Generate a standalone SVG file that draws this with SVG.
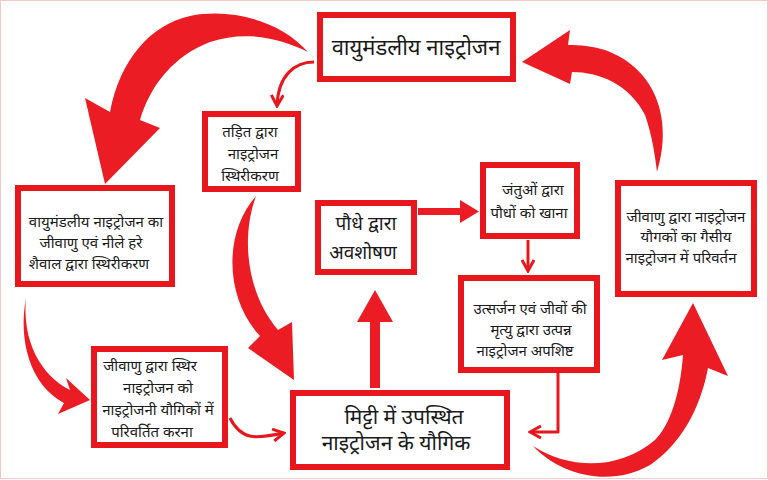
<svg xmlns="http://www.w3.org/2000/svg" width="768" height="480" viewBox="0 0 768 480">
<style>
.box{fill:#fff;stroke:#e8161d;stroke-width:6}
.t{font-family:"Noto Sans Devanagari","Noto Sans","Liberation Sans",sans-serif;fill:#1a1a1a;text-anchor:middle}
.s{font-size:15px}
.m{font-size:19px}
.ml{font-size:21px}
.l{font-size:22px}
.big{fill:#ec1c24}
.ln{fill:none;stroke:#e8161d;stroke-width:3;stroke-linejoin:round}
</style>
<defs>
<marker id="chev" viewBox="0 0 14 14" refX="12" refY="7" markerWidth="14" markerHeight="14" markerUnits="userSpaceOnUse" orient="auto">
<path d="M1,1 L12,7 L1,13" fill="none" stroke="#e8161d" stroke-width="3"/>
</marker>
</defs>
<rect x="0.5" y="0.5" width="767" height="478" fill="#fff" stroke="#f0c8c8" stroke-width="1"/>
<g id="connectors">
<path class="big" d="M308,52 C280,20 230,8 190,16 C150,25 120,60 110,112 L85,98 L105,184 L160,128 L140,120 C150,85 175,55 210,42 C245,30 280,38 308,52 Z"/>
<path class="ln" d="M314,62 C295,62 278,75 277,106" marker-end="url(#chev)"/>
<path class="big" d="M657,172 C672,125 660,70 605,50 C592,46 580,45 568,45 L570,30 L522,62 L570,84 L572,72 C600,72 630,85 645,115 C652,135 655,155 657,172 Z"/>
<path class="big" d="M533,446 C570,470 620,470 655,440 C670,425 680,395 683,355 L662,360 L693,303 L728,376 L708,368 C700,410 680,445 650,465 C610,488 560,475 533,446 Z"/>
<path class="big" d="M256,196 C222,235 226,300 260,336 L248,348 L294,380 L292,322 L278,330 C248,295 240,240 256,196 Z"/>
<path class="big" d="M26,298 C22,340 40,375 70,390 L66,378 L90,400 L58,414 L64,403 C30,385 18,340 26,298 Z"/>
<path class="ln" d="M230,418 C242,442 258,438 284,433" marker-end="url(#chev)"/>
<rect class="big" x="370" y="316" width="10" height="72"/>
<polygon class="big" points="357,322 375,290 393,322"/>
<rect class="big" x="418" y="208" width="46" height="7"/>
<polygon class="big" points="460,200 479,211.5 460,223"/>
<path class="ln" d="M528,240 L528,271" marker-end="url(#chev)"/>
<path class="ln" d="M558,372 L558,432 L530,432" marker-end="url(#chev)"/>
</g>
<g id="n-atm">
<rect class="box" x="320" y="15" width="193" height="64"/>
<text class="t l" x="416" y="55">वायुमंडलीय नाइट्रोजन</text>
</g>
<g id="n-bio-fix">
<rect class="box" x="18" y="188" width="154" height="96"/>
<text class="t s" x="96" y="227">वायुमंडलीय नाइट्रोजन का</text>
<text class="t s" x="91" y="248">जीवाणु एवं नीले हरे</text>
<text class="t s" x="89" y="269">शैवाल द्वारा स्थिरीकरण</text>
</g>
<g id="n-lightning">
<rect class="box" x="205" y="114" width="93" height="75"/>
<text class="t s" x="250" y="137">तड़ित द्वारा</text>
<text class="t s" x="253" y="159">नाइट्रोजन</text>
<text class="t s" x="250" y="181">स्थिरीकरण</text>
</g>
<g id="n-convert">
<rect class="box" x="94" y="349" width="131" height="96"/>
<text class="t s" x="150" y="371">जीवाणु द्वारा स्थिर</text>
<text class="t s" x="158" y="393">नाइट्रोजन को</text>
<text class="t s" x="158" y="415">नाइट्रोजनी यौगिकों में</text>
<text class="t s" x="152" y="437">परिवर्तित करना</text>
</g>
<g id="n-soil">
<rect class="box" x="293" y="393" width="214" height="74"/>
<text class="t ml" x="404" y="424">मिट्टी में उपस्थित</text>
<text class="t ml" x="396" y="450">नाइट्रोजन के यौगिक</text>
</g>
<g id="n-plant">
<rect class="box" x="318" y="203" width="96" height="69"/>
<text class="t m" x="366" y="230">पौधे द्वारा</text>
<text class="t m" x="363" y="259">अवशोषण</text>
</g>
<g id="n-animal">
<rect class="box" x="483" y="165" width="94" height="71"/>
<text class="t s" x="533" y="195">जंतुओं द्वारा</text>
<text class="t s" x="529" y="218">पौधों को खाना</text>
</g>
<g id="n-waste">
<rect class="box" x="461" y="278" width="136" height="92"/>
<text class="t s" x="530" y="314">उत्सर्जन एवं जीवों की</text>
<text class="t s" x="531" y="335">मृत्यु द्वारा उत्पन्न</text>
<text class="t s" x="525" y="356">नाइट्रोजन अपशिष्ट</text>
</g>
<g id="n-denit">
<rect class="box" x="618" y="183" width="136" height="111"/>
<text class="t s" x="686" y="222">जीवाणु द्वारा नाइट्रोजन</text>
<text class="t s" x="686" y="242">यौगकों का गैसीय</text>
<text class="t s" x="681" y="263">नाइट्रोजन में परिवर्तन</text>
</g>
</svg>
